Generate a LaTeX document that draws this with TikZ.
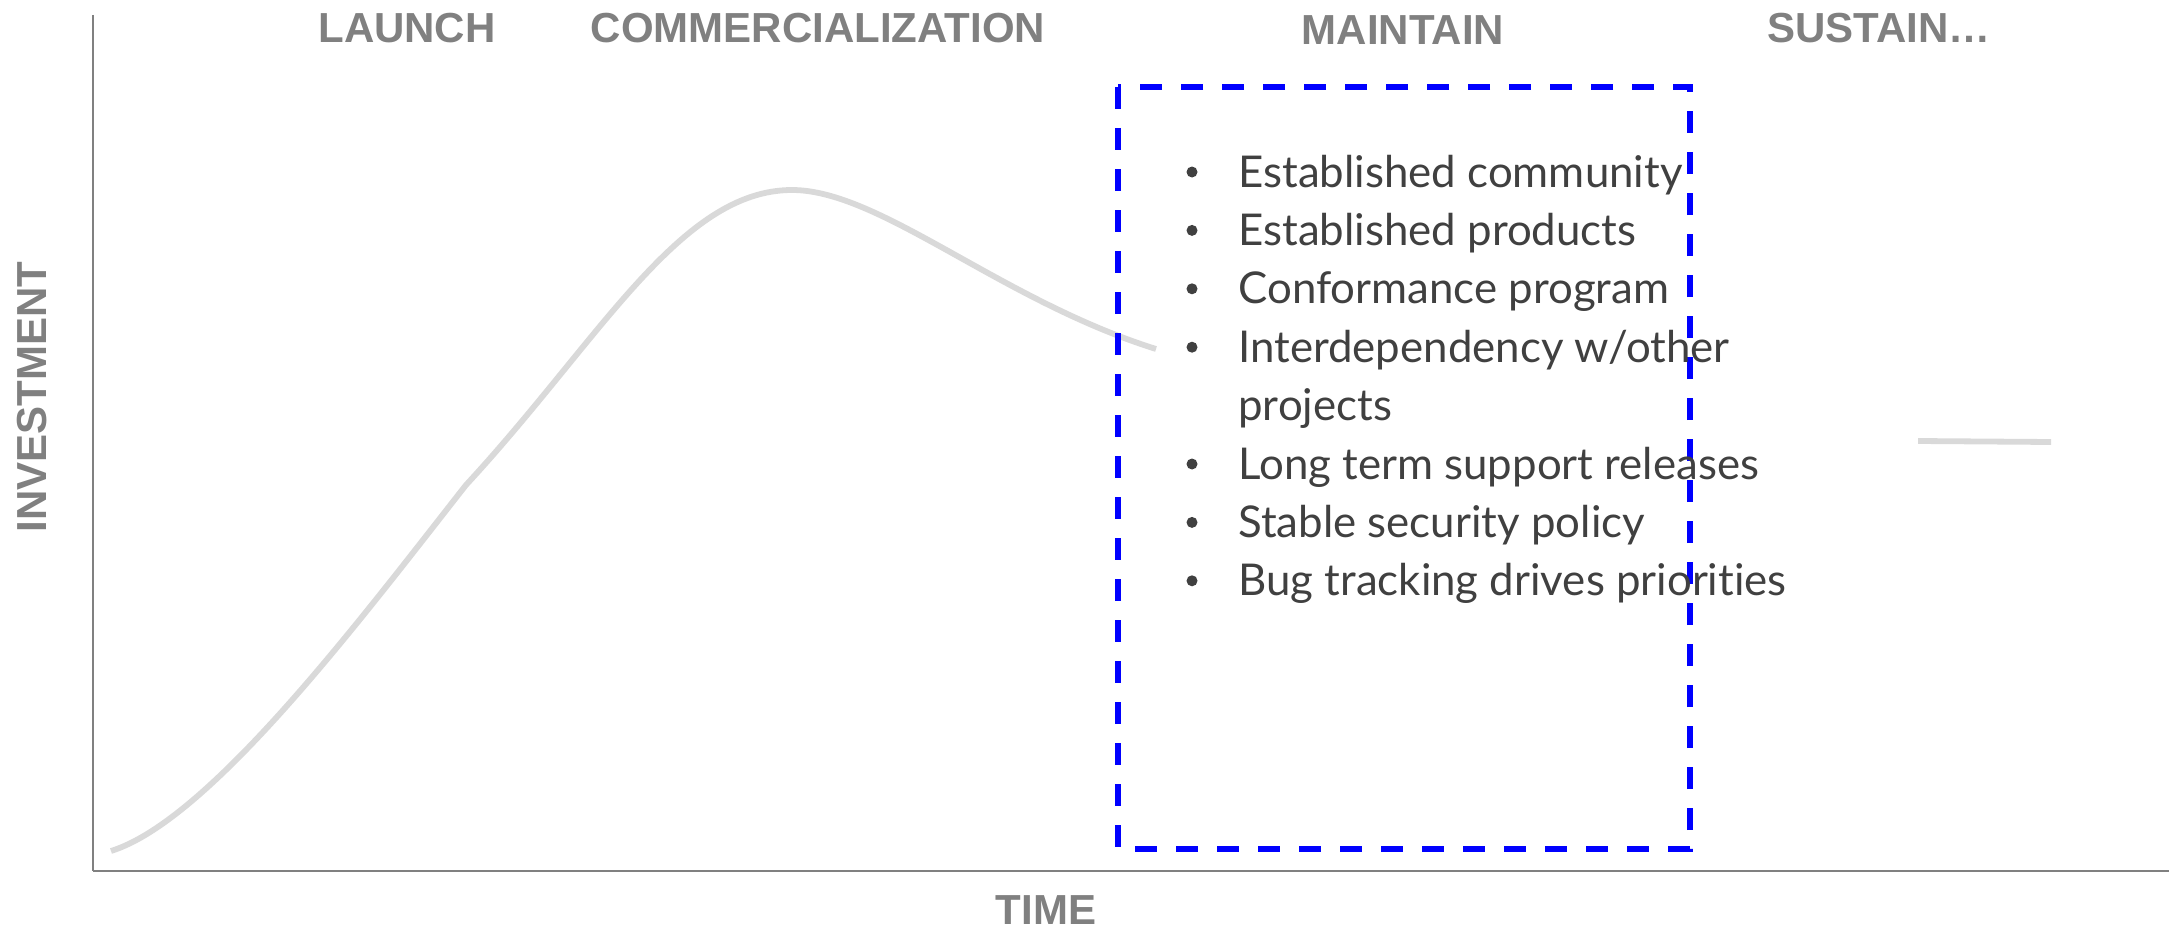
\documentclass[tikz,border=0pt]{standalone}
\usepackage{fontspec}
\setmainfont{Lato}[Ligatures=NoCommon]
\newfontfamily\headfont{Liberation Sans}
\usepackage{tikz}
\usetikzlibrary{positioning}
\definecolor{phasegray}{HTML}{808080}
\definecolor{curvegray}{HTML}{D9D9D9}
\definecolor{itemgray}{HTML}{404040}
\definecolor{boxblue}{HTML}{0000FF}
\tikzset{
  phase/.style={font=\headfont\bfseries\fontsize{21}{25}\selectfont, text=phasegray, inner sep=0pt},
  item/.style={font=\fontsize{21.9}{26}\selectfont, text=itemgray, anchor=base west, inner sep=0pt},
  itemdot/.style={circle, fill=itemgray, inner sep=0pt, minimum size=5.5pt}
}

\begin{document}
\begin{tikzpicture}[x=0.5pt, y=-0.5pt]
        \useasboundingbox (0,0) rectangle (2173,931);

        % axes
        \draw[phasegray, line width=0.7pt] (93,15) -- (93,871);
        \draw[phasegray, line width=1.2pt] (93,871) -- (2169,871);
        \node[phase] (time) at (1046,910) {TIME};
        \node[phase, rotate=90] (invest) at (32,397) {INVESTMENT};

        % phases
        \node[phase] (launch) at (407,28) {LAUNCH};
        \node[phase] (comm) at (818,28) {COMMERCIALIZATION};
        \node[phase] (maint) at (1403,30) {MAINTAIN};
        \node[phase] (sustain) at (1879,28) {SUSTAIN…};

        % investment curve
        \draw[curvegray, line width=2.9pt] (111,851) .. controls (210,820) and (360,620) .. (466,485)
            .. controls (600,340) and (680,190) .. (792,190)
            .. controls (880,190) and (1000,300) .. (1156,349);
        \draw[curvegray, line width=2.9pt] (1918,441) -- (2051,442);

        % maintain box
        \draw[boxblue, line width=2.7pt, dash pattern=on 11pt off 9.5pt] (1118,87) rectangle (1690,849);

        \foreach \n/\row/\txt in {a/0/Established community, b/1/Established products,
            c/2/Conformance program, d/3/{Interdependency w/other},
            e/5/Long term support releases, f/6/Stable security policy,
            g/7/Bug tracking drives priorities}{
          \node[item] (item-\n) at (1238,187+58.4*\row) {\txt};
          \node[itemdot] (dot-\n) at (1192,172+58.4*\row) {};
        }
        \node[item] (item-d2) at (1238,187+58.4*4) {projects};
\end{tikzpicture}
\end{document}
